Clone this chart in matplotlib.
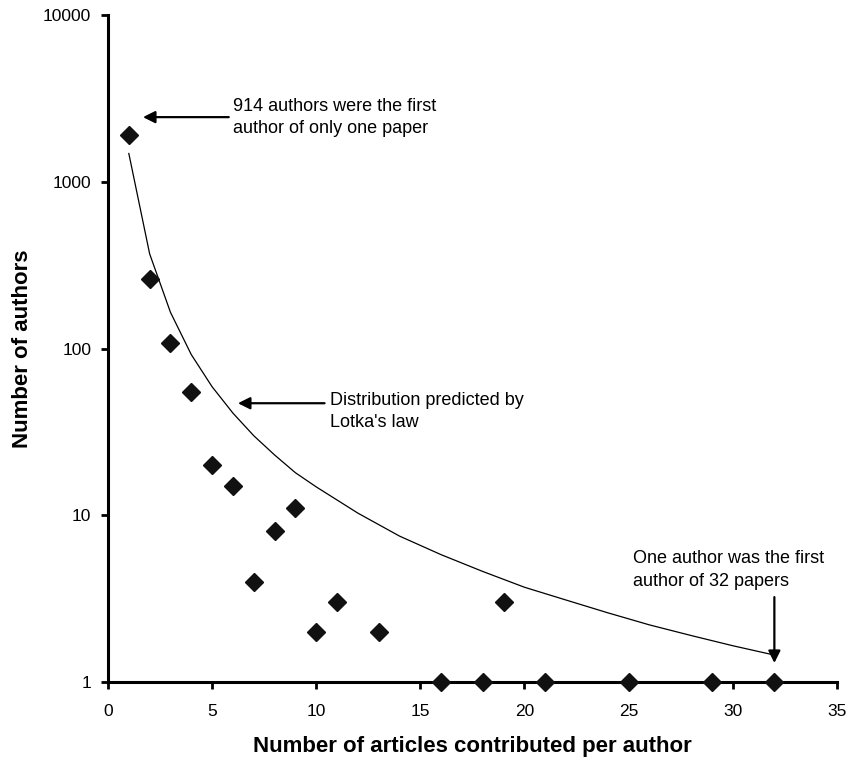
import matplotlib
matplotlib.use("Agg")
import matplotlib.pyplot as plt

plt.rcParams['font.family'] = ['Liberation Sans', 'DejaVu Sans']

# observed: number of authors by number of articles contributed
articles = [1, 2, 3, 4, 5, 6, 7, 8, 9, 10, 11, 13, 16, 18, 19, 21, 25, 29, 32]
authors = [1900, 262, 108, 55, 20, 15, 4, 8, 11, 2, 3, 2, 1, 1, 3, 1, 1, 1, 1]

# predicted curve (Lotka's law)
lotka_x = [1, 2, 3, 4, 5, 6, 7, 8, 9, 10, 12, 14, 16, 18, 20, 22, 24, 26, 28, 30, 32]
lotka_y = [1480, 370, 165, 92, 59, 41, 30, 23, 18, 14.8, 10.3, 7.5, 5.8, 4.6,
           3.7, 3.1, 2.6, 2.2, 1.9, 1.65, 1.45]

x_ticks = [0, 5, 10, 15, 20, 25, 30, 35]
y_ticks = [1, 10, 100, 1000, 10000]

fig = plt.figure(figsize=(8.47, 7.58), dpi=100)
ax = fig.add_axes([0.1275, 0.1003, 0.8605, 0.8797])

ax.plot(lotka_x, lotka_y, color='black', lw=0.9)
ax.plot(articles, authors, linestyle='none', marker='D', markersize=9.5,
        color='#111111', clip_on=False, zorder=3)

ax.set_yscale('log')
ax.set_xlim(0, 35)
ax.set_ylim(1, 10000)
ax.set_xticks(x_ticks)
ax.set_yticks(y_ticks)
ax.set_yticklabels([str(v) for v in y_ticks])
ax.minorticks_off()

for side in ['top', 'right']:
    ax.spines[side].set_visible(False)
for side in ['left', 'bottom']:
    ax.spines[side].set_linewidth(2.2)
ax.tick_params(direction='out', length=5, width=2, labelsize=12.5)
ax.tick_params(axis='x', pad=11)
ax.tick_params(axis='y', pad=7)

ax.set_xlabel('Number of articles contributed per author', fontsize=16,
              fontweight='bold', labelpad=12)
ax.set_ylabel('Number of authors', fontsize=16, fontweight='bold', labelpad=7)

arrow = dict(arrowstyle='-|>', color='black', lw=1.6, mutation_scale=18,
             shrinkA=0, shrinkB=0)
ax.annotate('', xy=(1.68, 2445), xytext=(5.8, 2445), arrowprops=arrow)
ax.text(6.0, 2445, '914 authors were the first\nauthor of only one paper',
        fontsize=13, va='center', ha='left', linespacing=1.4)

ax.annotate('', xy=(6.24, 47), xytext=(10.4, 47), arrowprops=arrow)
ax.text(10.66, 42, "Distribution predicted by\nLotka's law",
        fontsize=13, va='center', ha='left', linespacing=1.4)

ax.annotate('', xy=(32, 1.3), xytext=(32, 3.23), arrowprops=arrow)
ax.text(25.2, 4.7, 'One author was the first\nauthor of 32 papers',
        fontsize=13, va='center', ha='left', linespacing=1.4)

fig.savefig('out.png', dpi=100)
